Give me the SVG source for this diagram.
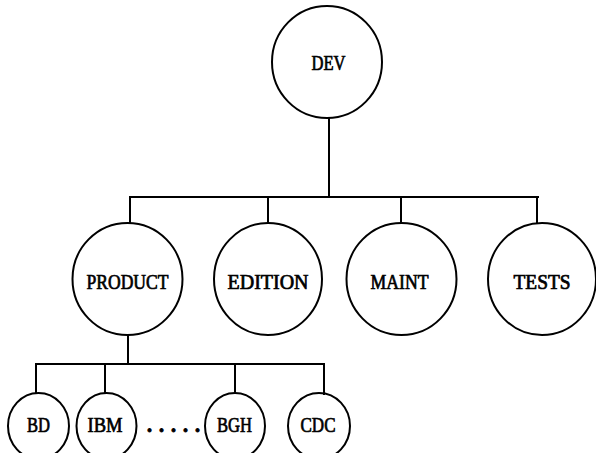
<svg xmlns="http://www.w3.org/2000/svg" width="596" height="453" viewBox="0 0 596 453">
<style>
.n{fill:none;stroke:#000;stroke-width:2}
.c{fill:none;stroke:#000;stroke-width:2;stroke-linecap:square}
.t{font-family:"Liberation Serif","Times New Roman",serif;font-size:20px;text-anchor:middle;fill:#000;stroke:#000;stroke-width:0.7}
.d{font-weight:bold;stroke-width:1}
</style>
<rect width="596" height="453" fill="#fff"/>
<g id="connectors">
<path class="c" d="M329 118V197M130 197H538M130 197V223M268 197V223M401 197V223M537 197V223"/>
<path class="c" d="M128 335V364M36 364H324M36 364V393M105 364V393M235 364V393M324 364V394"/>
</g>
<g id="DEV"><ellipse class="n" cx="327" cy="62" rx="55" ry="56"/><text class="t" x="328.5" y="70" textLength="34" lengthAdjust="spacingAndGlyphs">DEV</text></g>
<g id="PRODUCT"><ellipse class="n" cx="127.5" cy="279" rx="55" ry="56"/><text class="t" x="127.5" y="289" textLength="82" lengthAdjust="spacingAndGlyphs">PRODUCT</text></g>
<g id="EDITION"><ellipse class="n" cx="268" cy="279" rx="54" ry="56"/><text class="t" x="268" y="289" textLength="81" lengthAdjust="spacingAndGlyphs">EDITION</text></g>
<g id="MAINT"><ellipse class="n" cx="401.5" cy="279" rx="55" ry="56"/><text class="t" x="399.5" y="289" textLength="58" lengthAdjust="spacingAndGlyphs">MAINT</text></g>
<g id="TESTS"><ellipse class="n" cx="542" cy="279" rx="54" ry="56"/><text class="t" x="542" y="289" textLength="57" lengthAdjust="spacingAndGlyphs">TESTS</text></g>
<g id="BD"><ellipse class="n" cx="38.5" cy="426" rx="30.5" ry="33"/><text class="t" x="38.5" y="432" textLength="23" lengthAdjust="spacingAndGlyphs">BD</text></g>
<g id="IBM"><ellipse class="n" cx="106.5" cy="426" rx="30" ry="33"/><text class="t" x="105" y="432" textLength="35" lengthAdjust="spacingAndGlyphs">IBM</text></g>
<g id="BGH"><ellipse class="n" cx="235" cy="426" rx="30" ry="33"/><text class="t" x="234.5" y="432" textLength="35" lengthAdjust="spacingAndGlyphs">BGH</text></g>
<g id="CDC"><ellipse class="n" cx="319" cy="426" rx="31" ry="33"/><text class="t" x="318" y="432" textLength="35" lengthAdjust="spacingAndGlyphs">CDC</text></g>
<text class="t d" x="173.5" y="432" textLength="53" lengthAdjust="spacing">.....</text>
</svg>
